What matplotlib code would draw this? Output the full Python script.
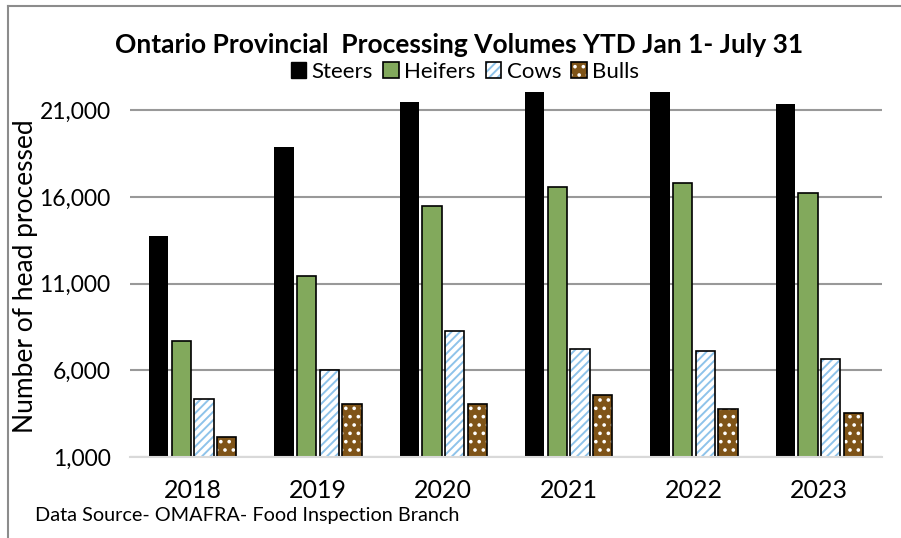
import matplotlib
matplotlib.use("Agg")
import matplotlib.pyplot as plt
from matplotlib.patches import Patch
from matplotlib.legend_handler import HandlerTuple
from matplotlib.ticker import FuncFormatter
import numpy as np

plt.rcParams['font.family'] = ['Lato', 'DejaVu Sans']
plt.rcParams['hatch.linewidth'] = 1.4

# values
years = ['2018', '2019', '2020', '2021', '2022', '2023']
steers = [13760, 18890, 21490, 22600, 22500, 21370]
heifers = [7680, 11430, 15490, 16550, 16800, 16240]
cows = [4340, 6010, 8260, 7220, 7090, 6640]
bulls = [2160, 4030, 4030, 4550, 3780, 3530]
series_names = ['Steers', 'Heifers', 'Cows', 'Bulls']
yticks = [1000, 6000, 11000, 16000, 21000]

green = '#82a95c'
blue = '#8ec3ea'
brown = '#7f5418'

fig = plt.figure(figsize=(9.01, 5.38), dpi=100)
ax = fig.add_axes([130/901, 1 - 457/538, (882-130)/901, (457-92)/538])

x = np.arange(len(years))
w = 0.156
step = 0.181
offs = (np.arange(4) - 1.5) * step

ax.bar(x + offs[0], steers, w, color='black', zorder=3)
ax.bar(x + offs[1], heifers, w, color=green, edgecolor='black', linewidth=1.2, zorder=3)
# cows: white with blue stripes, black outline on top
ax.bar(x + offs[2], cows, w, color='white', edgecolor=blue, hatch='////', linewidth=0, zorder=3)
ax.bar(x + offs[2], cows, w, fill=False, edgecolor='black', linewidth=1.2, zorder=4)
# bulls: brown with white dots
ax.bar(x + offs[3], bulls, w, color=brown, edgecolor='white', hatch='..', linewidth=0, zorder=3)
ax.bar(x + offs[3], bulls, w, fill=False, edgecolor='black', linewidth=1.2, zorder=4)

ax.set_ylim(1000, 22050)
ax.set_xlim(-0.5, len(years) - 0.5)
ax.set_yticks(yticks)
ax.yaxis.set_major_formatter(FuncFormatter(lambda v, p: f'{int(v):,}'))
ax.set_xticks(x)
ax.set_xticklabels(years)
ax.tick_params(axis='both', length=0)
ax.tick_params(axis='x', pad=16, labelsize=18)
ax.tick_params(axis='y', pad=14, labelsize=16.5)
ax.grid(axis='y', color='#999999', linewidth=1.5, zorder=0)
for s in ['top', 'right', 'left']:
    ax.spines[s].set_visible(False)
ax.spines['bottom'].set_color('#d9d9d9')
ax.spines['bottom'].set_linewidth(1.5)
ax.spines['bottom'].set_zorder(5)

fig.text(0.509, 1 - 45/538, 'Ontario Provincial  Processing Volumes YTD Jan 1- July 31',
         ha='center', va='center', fontsize=19, fontweight='bold')
fig.text(26/901, 1 - 276/538, 'Number of head processed', rotation=90,
         ha='center', va='center', fontsize=19)
fig.text(35/901, 1 - 515/538, 'Data Source- OMAFRA- Food Inspection Branch',
         ha='left', va='center', fontsize=14.3)

# legend
h_steer = Patch(facecolor='black', edgecolor='black')
h_heif = Patch(facecolor=green, edgecolor='black', linewidth=1.2)
h_cow = (Patch(facecolor='white', edgecolor=blue, hatch='////', linewidth=0),
         Patch(fill=False, edgecolor='black', linewidth=1.2))
h_bull = (Patch(facecolor=brown, edgecolor='white', hatch='..', linewidth=0),
          Patch(fill=False, edgecolor='black', linewidth=1.2))
fig.legend([h_steer, h_heif, h_cow, h_bull], series_names,
           handler_map={tuple: HandlerTuple(ndivide=1)},
           loc='center', bbox_to_anchor=(465/901, 1 - 72/538), ncol=4, frameon=False,
           fontsize=16, handlelength=0.7, handleheight=0.7, handletextpad=0.25,
           columnspacing=0.45, borderpad=0)

# outer chart border (top and left only visible)
fig.add_artist(plt.Line2D([8/901, 1], [1 - 6/538, 1 - 6/538], color='#8c8c8c', linewidth=1.5))
fig.add_artist(plt.Line2D([8/901, 8/901], [0, 1 - 6/538], color='#8c8c8c', linewidth=1.5))

fig.savefig('out.png', dpi=100)
